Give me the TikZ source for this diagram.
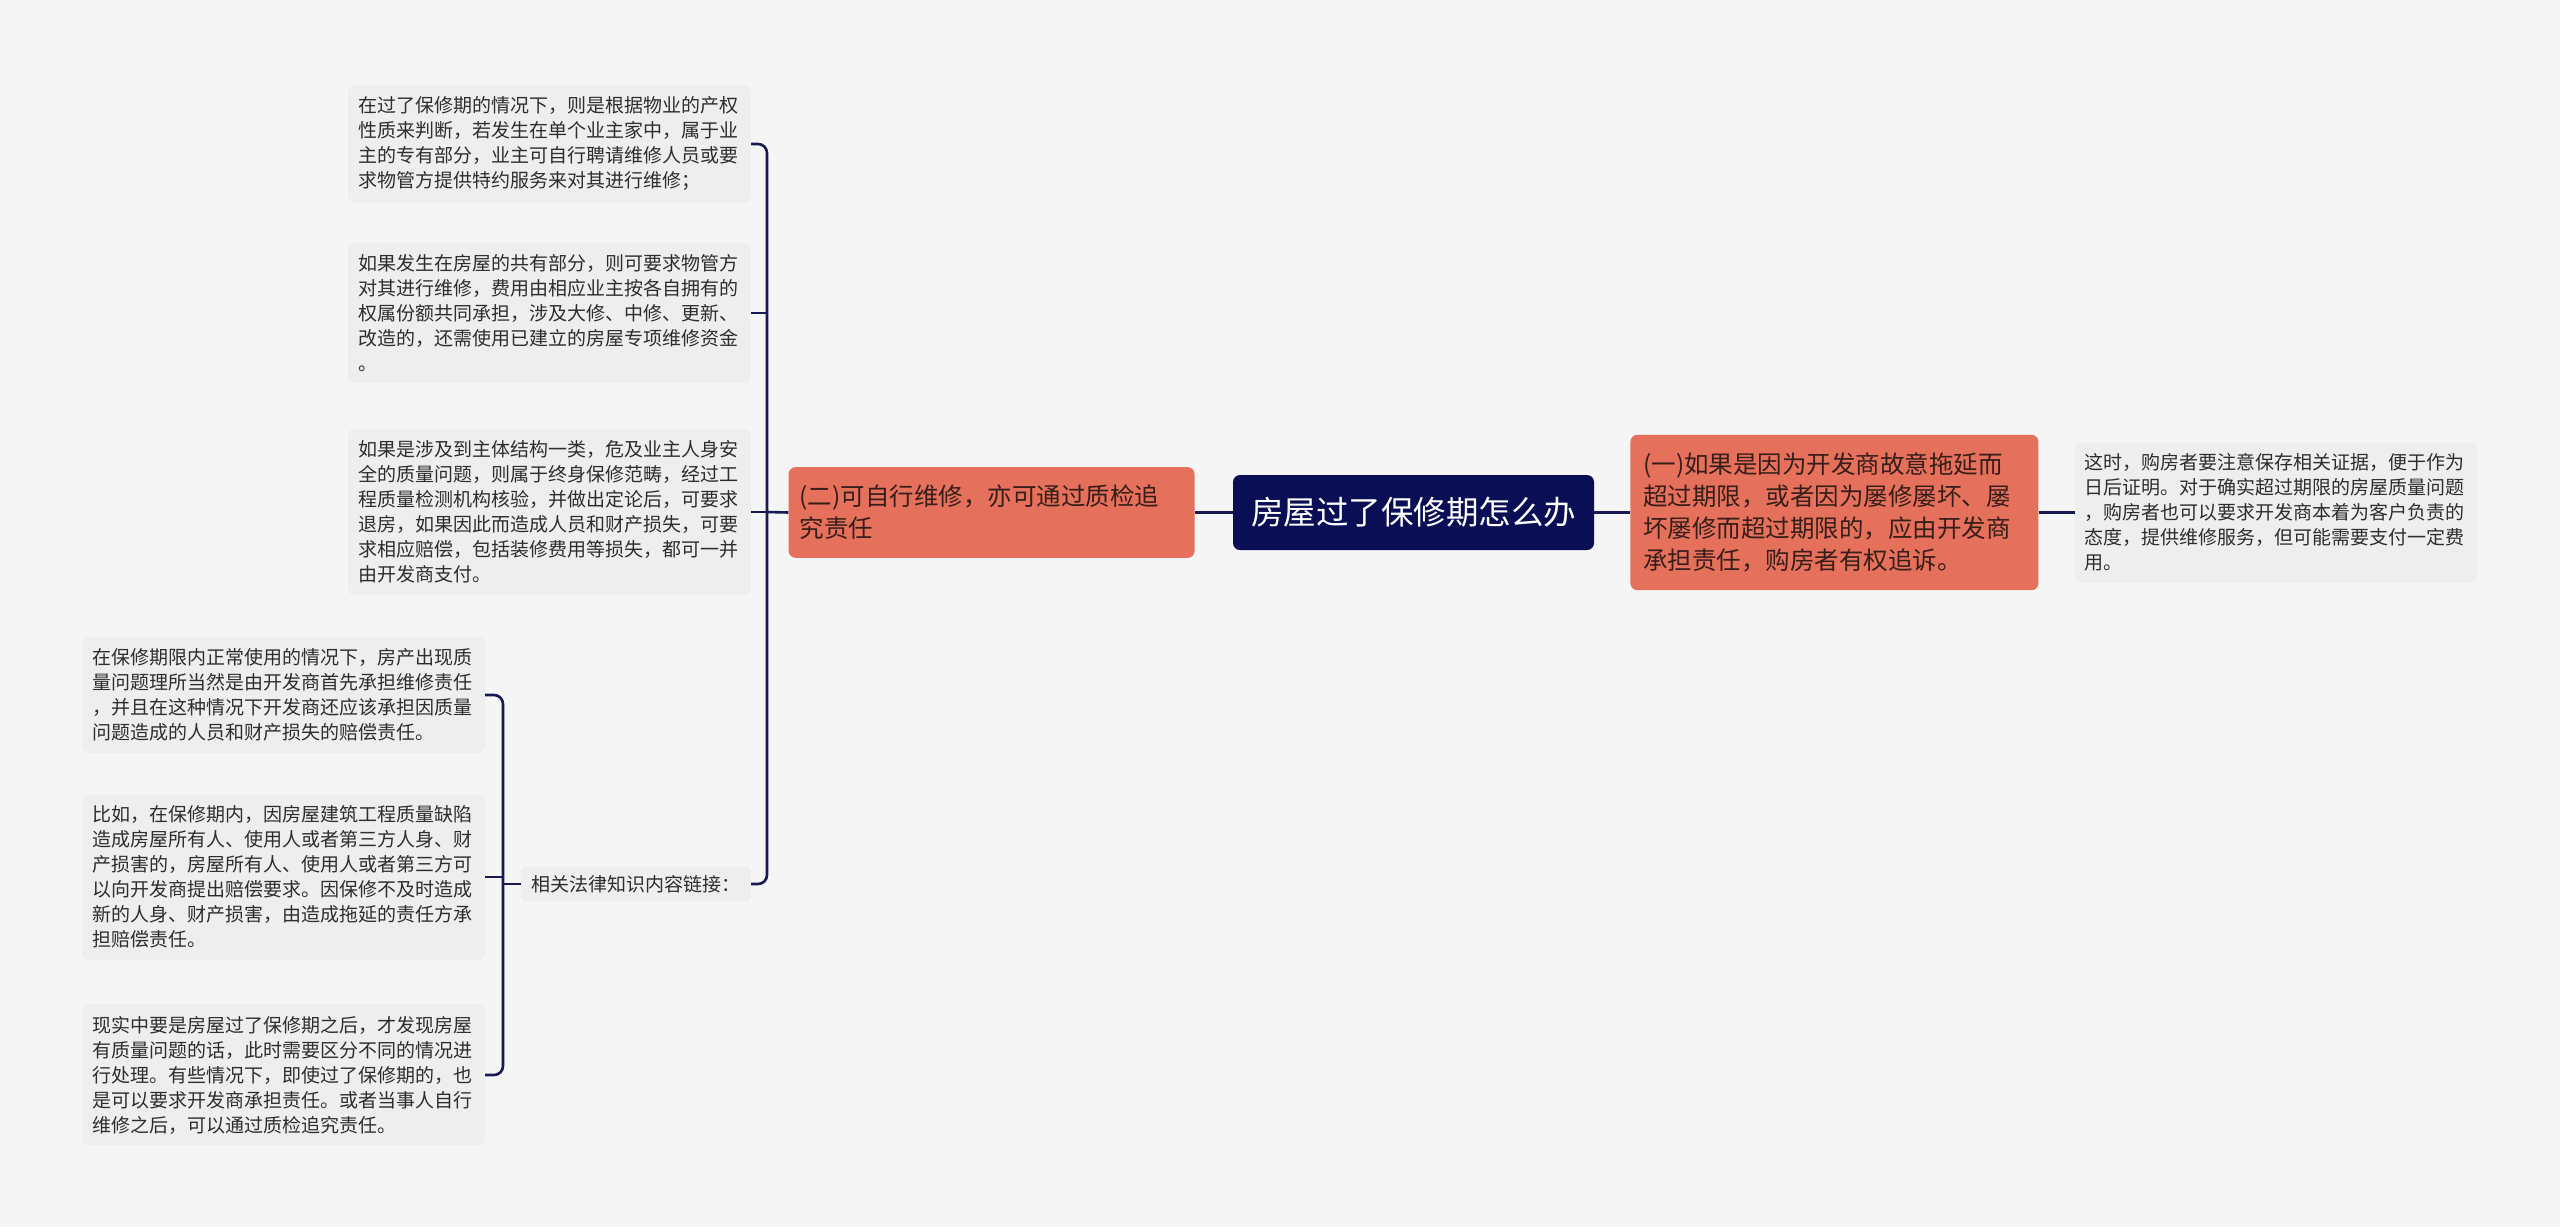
\documentclass[tikz,border=0pt]{standalone}
\usepackage{fontspec}
\setmainfont{Noto Sans CJK SC}
\usepackage{tikz}
\usetikzlibrary{positioning}
\definecolor{bgcol}{RGB}{245,245,245}
\definecolor{leafcol}{RGB}{238,238,238}
\definecolor{leaftext}{RGB}{45,45,45}
\definecolor{salmon}{RGB}{229,112,91}
\definecolor{branchtext}{RGB}{55,30,25}
\definecolor{rootcol}{RGB}{10,14,84}
\definecolor{linecol}{RGB}{22,26,80}

\begin{document}
\begin{tikzpicture}[x=1pt,y=-1pt,
		conn/.style={draw=linecol,line width=2.6pt,rounded corners=9pt},
		leaf/.style={fill=leafcol,rounded corners=7pt,text=leaftext,align=left,text width=382pt,inner xsep=10.5pt,inner ysep=11.5pt,font=\fontsize{19}{25}\selectfont},
		branch/.style={fill=salmon,rounded corners=7pt,text=branchtext,align=left,inner xsep=12pt,inner ysep=18pt,font=\fontsize{24.5}{32}\selectfont},
		root/.style={fill=rootcol,rounded corners=7pt,text=white,minimum width=361pt,minimum height=75pt,font=\fontsize{32.5}{38}\selectfont}]
		\fill[bgcol] (0,0) rectangle (2560,1227);
		\useasboundingbox (0,0) rectangle (2560,1227);

		\node[root] (root) at (1413.5,512.5) {房屋过了保修期怎么办};
		\node[branch,text width=384pt,inner xsep=11pt,left=38pt of root] (lmain) {(二)可自行维修，亦可通过质检追\\究责任};
		\node[branch,text width=382pt,inner xsep=13pt,right=36pt of root] (rmain) {(一)如果是因为开发商故意拖延而\\超过期限，或者因为屡修屡坏、屡\\坏屡修而超过期限的，应由开发商\\承担责任，购房者有权追诉。};
		\node[leaf,inner xsep=10pt,right=36pt of rmain] (rleaf) {这时，购房者要注意保存相关证据，便于作为\\日后证明。对于确实超过期限的房屋质量问题\\，购房者也可以要求开发商本着为客户负责的\\态度，提供维修服务，但可能需要支付一定费\\用。};

		\node[leaf,anchor=east] (prop) at (751,144) {在过了保修期的情况下，则是根据物业的产权\\性质来判断，若发生在单个业主家中，属于业\\主的专有部分，业主可自行聘请维修人员或要\\求物管方提供特约服务来对其进行维修；};
		\node[leaf,anchor=east] (share) at (751,313) {如果发生在房屋的共有部分，则可要求物管方\\对其进行维修，费用由相应业主按各自拥有的\\权属份额共同承担，涉及大修、中修、更新、\\改造的，还需使用已建立的房屋专项维修资金\\。};
		\node[leaf,anchor=east] (struct) at (751,512) {如果是涉及到主体结构一类，危及业主人身安\\全的质量问题，则属于终身保修范畴，经过工\\程质量检测机构核验，并做出定论后，可要求\\退房，如果因此而造成人员和财产损失，可要\\求相应赔偿，包括装修费用等损失，都可一并\\由开发商支付。};
		\node[leaf,text width=,inner ysep=9pt,anchor=east] (law) at (751,884) {相关法律知识内容链接：};

		\node[leaf,anchor=east] (normal) at (485,695) {在保修期限内正常使用的情况下，房产出现质\\量问题理所当然是由开发商首先承担维修责任\\，并且在这种情况下开发商还应该承担因质量\\问题造成的人员和财产损失的赔偿责任。};
		\node[leaf,anchor=east] (example) at (485,877) {比如，在保修期内，因房屋建筑工程质量缺陷\\造成房屋所有人、使用人或者第三方人身、财\\产损害的，房屋所有人、使用人或者第三方可\\以向开发商提出赔偿要求。因保修不及时造成\\新的人身、财产损害，由造成拖延的责任方承\\担赔偿责任。};
		\node[leaf,anchor=east] (reality) at (485,1075) {现实中要是房屋过了保修期之后，才发现房屋\\有质量问题的话，此时需要区分不同的情况进\\行处理。有些情况下，即使过了保修期的，也\\是可以要求开发商承担责任。或者当事人自行\\维修之后，可以通过质检追究责任。};

		\draw[conn] (root) -- (lmain);
		\draw[conn] (root) -- (rmain);
		\draw[conn] (rmain) -- (rleaf);

		\coordinate (lfork) at (767,512);
		\draw[conn] (lmain.west) -- (lfork);
		\draw[conn] (prop.east) -| (lfork) |- (law.east);
		\draw[conn] (share.east) -- (share.east -| lfork);
		\draw[conn] (struct.east) -- (lfork);

		\coordinate (lawfork) at (503,884);
		\draw[conn] (law.west) -- (lawfork);
		\draw[conn] (normal.east) -| (lawfork) |- (reality.east);
		\draw[conn] (example.east) -- (example.east -| lawfork);
\end{tikzpicture}
\end{document}
